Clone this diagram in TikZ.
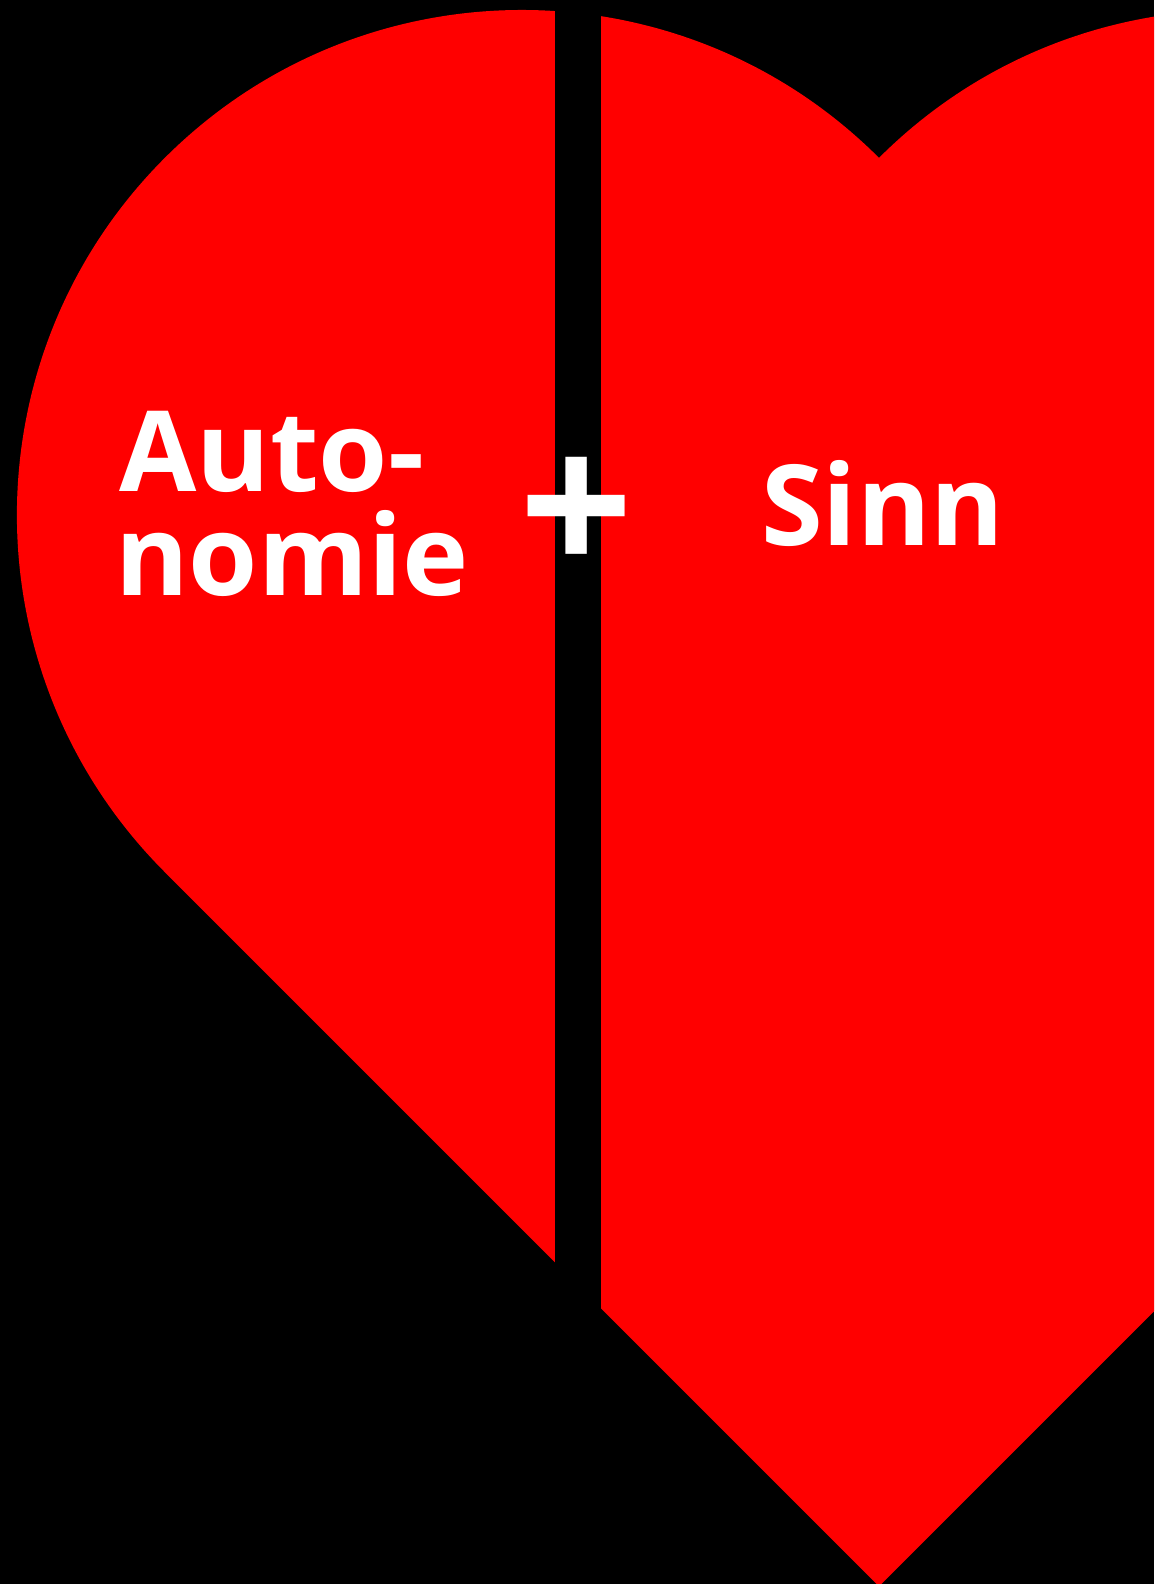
\documentclass[tikz,border=0pt]{standalone}
\usepackage{fontspec}
\newfontfamily\labelfont{Open Sans}
\definecolor{heartred}{RGB}{255,0,0}
\tikzset{
  wordlabel/.style={text=white, inner sep=0pt, anchor=base west,
    font=\labelfont\bfseries\fontsize{112}{104}\selectfont},
  pluslabel/.style={text=white, inner sep=0pt, anchor=center,
    font=\labelfont\bfseries\fontsize{200}{200}\selectfont}
}
\begin{document}
\begin{tikzpicture}[x=1pt,y=1pt]
\useasboundingbox (0,0) rectangle (1154,1584);
\clip (0,0) rectangle (1154,1584);
\fill[black] (0,0) rectangle (1154,1584);
% heart: two circles (r=505) meeting at the dip, tangents at 45 degrees to the tip
\fill[heartred] (879,-2.27) -- (164.82,711.91)
  arc[start angle=225, end angle=45, radius=505]
  arc[start angle=135, end angle=-45, radius=505] -- cycle;
% dividing stripe
\fill[black] (555,-10) rectangle (601,1600);
% labels
\node[wordlabel] (auto) at (119,1092) {Auto-};
\node[wordlabel] (nomie) at (115,988) {nomie};
\node[pluslabel] (plus) at (577,1067) {+};
\node[wordlabel] (sinn) at (761,1038) {Sinn};
\end{tikzpicture}
\end{document}
